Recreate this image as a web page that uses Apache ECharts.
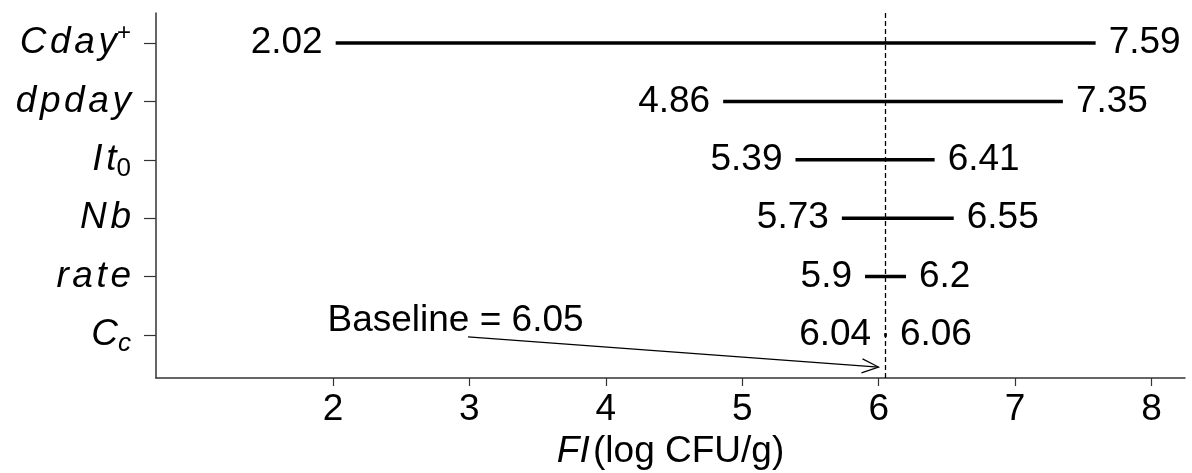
<!DOCTYPE html>
<html>
<head>
<meta charset="utf-8">
<title>FI sensitivity ranges</title>
<script src="https://cdn.jsdelivr.net/npm/echarts@6/dist/echarts.min.js"></script>
<style>
  html, body { margin: 0; padding: 0; background: #ffffff; }
  #chart { width: 1192px; height: 473px; }
</style>
</head>
<body>
<div id="chart"></div>
<script>
// Parameters, listed top to bottom
const parameters = ['Cday+', 'dpday', 'It0', 'Nb', 'rate', 'Cc'];
// FI (log CFU/g) at the low and high end of each parameter's range
const lowValues  = [2.02, 4.86, 5.39, 5.73, 5.9, 6.04];
const highValues = [7.59, 7.35, 6.41, 6.55, 6.2, 6.06];
// Baseline FI
const baseline = 6.05;
// Tick labels on the FI axis
const xTicks = [2, 3, 4, 5, 6, 7, 8];

const FONT = '"Liberation Sans", Arial, sans-serif';

// Rich-text labels for the parameter names (italic, with sub/superscripts)
const nameLabels = {
  'Cday+': '{i|C}{sp| }{i|d}{sp| }{i|a}{sp| }{i|y}{sup|+}',
  'dpday': '{i|d}{sp| }{i|p}{sp| }{i|d}{sp| }{i|a}{sp| }{i|y}',
  'It0':   '{i|I}{sp| }{i|t}{sub|0}',
  'Nb':    '{i|N}{sp| }{i|b}',
  'rate':  '{i|r}{sp| }{i|a}{sp| }{i|t}{sp| }{i|e}',
  'Cc':    '{i|C}{subi|c}'
};

// Rows are placed bottom-up at 1..n on the vertical axis
const n = parameters.length;
const rowPos = parameters.map((_, k) => n - k);
const rangeData = parameters.map((p, k) => [rowPos[k], lowValues[k], highValues[k]]);

const chart = echarts.init(document.getElementById('chart'), null, { renderer: 'canvas' });

const option = {
  backgroundColor: '#ffffff',
  animation: false,
  grid: { left: 156, right: 7, top: 13, bottom: 95, containLabel: false, outerBoundsMode: 'none' },
  xAxis: {
    type: 'value',
    min: 0.703,
    max: 8.245,
    splitLine: { show: false },
    axisLine: { show: true, lineStyle: { color: '#333', width: 1.5 } },
    axisTick: { show: true, customValues: xTicks, length: 8, lineStyle: { color: '#333', width: 1.2 } },
    axisLabel: {
      customValues: xTicks,
      fontFamily: FONT, fontSize: 37, color: '#000', margin: 13,
      formatter: v => String(v)
    },
    name: '{fi|FI} {t|(log CFU/g)}',
    nameLocation: 'middle',
    nameGap: 48,
    nameTextStyle: {
      rich: {
        fi: { fontFamily: FONT, fontSize: 37, fontStyle: 'italic', color: '#000' },
        t:  { fontFamily: FONT, fontSize: 37, color: '#000' }
      }
    }
  },
  yAxis: {
    type: 'value',
    min: 0.263,
    max: 6.514,
    splitLine: { show: false },
    axisLine: { show: true, lineStyle: { color: '#333', width: 1.5 } },
    axisTick: { show: true, customValues: rowPos, length: 12, lineStyle: { color: '#333', width: 1.2 } },
    axisLabel: {
      customValues: rowPos,
      margin: 25,
      formatter: v => nameLabels[parameters[n - Math.round(v)]],
      rich: {
        i:    { fontFamily: FONT, fontSize: 37, fontStyle: 'italic', color: '#000', lineHeight: 44 },
        sp:   { fontFamily: FONT, fontSize: 13, color: '#000' },
        sup:  { fontFamily: FONT, fontSize: 24, color: '#000', verticalAlign: 'top', lineHeight: 24 },
        sub:  { fontFamily: FONT, fontSize: 26, color: '#000', verticalAlign: 'bottom', lineHeight: 26 },
        subi: { fontFamily: FONT, fontSize: 26, fontStyle: 'italic', color: '#000', verticalAlign: 'bottom', lineHeight: 26 }
      }
    }
  },
  series: [
    {
      // Range segments with their end values written at each end
      type: 'custom',
      data: rangeData,
      encode: { x: [1, 2], y: 0 },
      renderItem: (params, api) => {
        const y = api.value(0);
        const lo = api.value(1);
        const hi = api.value(2);
        const a = api.coord([lo, y]);
        const b = api.coord([hi, y]);
        const textStyle = { fontFamily: FONT, fontSize: 37, fill: '#000', verticalAlign: 'middle' };
        return {
          type: 'group',
          children: [
            { type: 'line', shape: { x1: a[0], y1: a[1], x2: b[0], y2: b[1] },
              style: { stroke: '#000', lineWidth: 3.5 } },
            { type: 'text', style: Object.assign({ text: String(lo), x: a[0] - 13, y: a[1], align: 'right' }, textStyle) },
            { type: 'text', style: Object.assign({ text: String(hi), x: b[0] + 13, y: b[1], align: 'left' }, textStyle) }
          ]
        };
      },
      markLine: {
        silent: true,
        symbol: ['none', 'none'],
        label: { show: false },
        lineStyle: { color: '#000', width: 1.3, type: [5, 3] },
        data: [{ xAxis: baseline }]
      },
      z: 3
    },
    {
      // Baseline annotation: caption with an open arrow pointing at the dashed line
      type: 'custom',
      data: [[baseline]],
      encode: { x: 0 },
      renderItem: (params, api) => {
        const b = api.value(0);
        const textPos = api.coord([1.96, 1.24]);
        const start = api.coord([2.99, 0.966]);
        const tipBase = api.coord([b, 0.45]);
        const tip = [tipBase[0] - 7, tipBase[1]];
        const ang = Math.atan2(tip[1] - start[1], tip[0] - start[0]);
        const headLen = 18, spread = 0.4;
        const h1 = [tip[0] - headLen * Math.cos(ang - spread), tip[1] - headLen * Math.sin(ang - spread)];
        const h2 = [tip[0] - headLen * Math.cos(ang + spread), tip[1] - headLen * Math.sin(ang + spread)];
        return {
          type: 'group',
          children: [
            { type: 'text', style: { text: 'Baseline = ' + baseline.toFixed(2), x: textPos[0], y: textPos[1],
                align: 'left', verticalAlign: 'middle', fontFamily: FONT, fontSize: 37, fill: '#000' } },
            { type: 'line', shape: { x1: start[0], y1: start[1], x2: tip[0], y2: tip[1] },
              style: { stroke: '#000', lineWidth: 1.2 } },
            { type: 'polyline', shape: { points: [h1, tip, h2] },
              style: { stroke: '#000', lineWidth: 1.2, fill: null } }
          ]
        };
      },
      z: 4
    }
  ]
};

chart.setOption(option);
</script>
</body>
</html>
